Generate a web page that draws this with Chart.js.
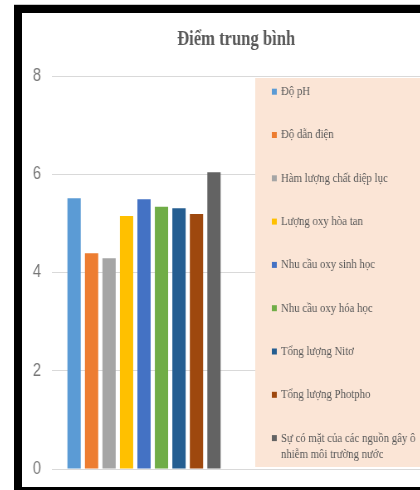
<!DOCTYPE html>
<html>
<head>
<meta charset="utf-8">
<script src="https://cdn.jsdelivr.net/npm/chart.js@4"></script>
<style>
  html, body { margin: 0; padding: 0; background: #fff; overflow: hidden; }
  #frame {
    position: absolute; left: 14px; top: 5px; width: 460px; height: 474px;
    border-left: 8px solid #000; border-top: 8px solid #000; border-bottom: 8px solid #000;
    box-shadow: 0 -1px 0 #c8c8c8;
  }
  #wrap {
    position: absolute; left: 0; top: 0; width: 480px; height: 474px;
    transform: scaleX(0.83); transform-origin: 0 0;
  }
</style>
</head>
<body>
<div id="frame"><div id="wrap"><canvas id="chart"></canvas></div></div>
<script>
// one real category plus an empty one so the bars sit in the left half
const categories = ['', ''];
const seriesNames = [
    'Độ pH',
    'Độ dẫn điện',
    'Hàm lượng chất diệp lục',
    'Lượng oxy hòa tan',
    'Nhu cầu oxy sinh học',
    'Nhu cầu oxy hóa học',
    'Tổng lượng Nitơ',
    'Tổng lượng Photpho',
    'Sự có mặt của các nguồn gây ô nhiễm môi trường nước'
];
const seriesValues = [5.51, 4.39, 4.29, 5.15, 5.49, 5.34, 5.31, 5.19, 6.04];
const seriesColors = ['#5B9BD5', '#ED7D31', '#A5A5A5', '#FFC000', '#4472C4', '#70AD47', '#255E91', '#9E480E', '#636363'];
const yTicks = [0, 2, 4, 6, 8];

const textGray = '#595959';

// legend panel drawn over the right part of the plot
const sideLegend = {
    id: 'sideLegend',
    afterDraw(chart) {
        const ctx = chart.ctx;
        const boxX = 281, boxY = 65, boxW = 220, boxH = 389;
        const markX = 301, textX = 312, firstY = 78.7, step = 43.3, lineH = 16.3;
        const maxW = 165;
        ctx.save();
        ctx.fillStyle = '#FBE5D6';
        ctx.fillRect(boxX, boxY, boxW, boxH);
        ctx.font = '13px "Liberation Serif", "Times New Roman", serif';
        ctx.textBaseline = 'middle';
        chart.data.datasets.forEach((ds, i) => {
            const y = firstY + i * step;
            ctx.fillStyle = ds.backgroundColor;
            ctx.fillRect(markX, y - 3, 6, 6);
            // simple word wrap
            const words = ds.label.split(' ');
            const lines = [];
            let cur = '';
            words.forEach(w => {
                const test = cur ? cur + ' ' + w : w;
                if (ctx.measureText(test).width > maxW && cur) {
                    lines.push(cur);
                    cur = w;
                } else {
                    cur = test;
                }
            });
            lines.push(cur);
            ctx.fillStyle = textGray;
            lines.forEach((ln, k) => ctx.fillText(ln, textX, y + k * lineH));
        });
        ctx.restore();
    }
};

const ctx = document.getElementById('chart').getContext('2d');
new Chart(ctx, {
    type: 'bar',
    data: {
        labels: categories,
        datasets: seriesNames.map((name, i) => ({
            label: name,
            data: [seriesValues[i], null],
            backgroundColor: seriesColors[i],
            borderWidth: 0
        }))
    },
    options: {
        responsive: true,
        maintainAspectRatio: false,
        animation: false,
        categoryPercentage: 0.854,
        barPercentage: 0.76,
        layout: { padding: 0 },
        plugins: {
            legend: { display: false },
            tooltip: { enabled: false },
            title: {
                display: true,
                fullSize: false,
                text: 'Điểm trung bình',
                color: textGray,
                font: { family: '"Liberation Serif", "Times New Roman", serif', size: 20, weight: 'bold' },
                padding: { top: 15, bottom: 24 }
            }
        },
        scales: {
            x: {
                grid: { display: false },
                border: { display: false },
                ticks: { display: false },
                afterFit(scale) { scale.height = 18; }
            },
            y: {
                min: 0,
                max: 8,
                afterBuildTicks(scale) { scale.ticks = yTicks.map(v => ({ value: v })); },
                grid: { color: '#D9D9D9', lineWidth: 1, drawTicks: false },
                border: { display: false },
                ticks: {
                    color: '#767676',
                    padding: 13,
                    font: { family: '"Liberation Sans Narrow", "Liberation Sans", sans-serif', size: 18 }
                },
                afterFit(scale) {
                    scale.width = 36;
                    scale.paddingTop = 0;
                    scale.paddingBottom = 0;
                }
            }
        }
    },
    plugins: [sideLegend]
});
</script>
</body>
</html>
